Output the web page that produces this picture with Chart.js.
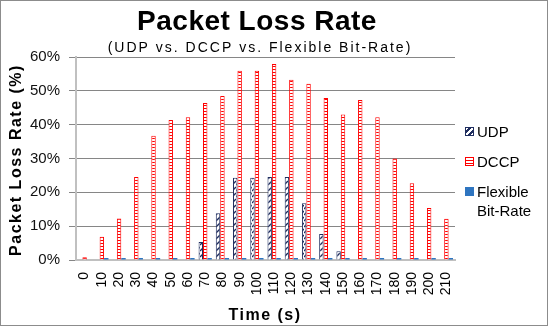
<!DOCTYPE html>
<html>
<head>
<meta charset="utf-8">
<script src="https://cdn.jsdelivr.net/npm/chart.js@4/dist/chart.umd.min.js"></script>
<style>
  body { margin: 0; background: #fff; }
  #wrap { position: relative; width: 548px; height: 326px; }
  #legend { position: absolute; left: 465px; top: 122px; font: 15px "Liberation Sans", Arial, sans-serif; color: #000; }
  .item { position: relative; padding-left: 12px; line-height: 19px; margin-bottom: 11px; }
  .sw { position: absolute; left: 0; top: 5px; width: 9px; height: 9px; box-sizing: border-box; }
  .udp { border: 1px solid #1f2d5e; background: repeating-linear-gradient(135deg, #fff 0 2px, #1f2d5e 2px 4px); }
  .dccp { border: 1px solid #ff0000; background: repeating-linear-gradient(to bottom, #fff 0 2px, #ff0000 2px 3px); }
  .flex { background: #2e75c0; }
</style>
</head>
<body>
<div id="wrap">
  <canvas id="myChart" width="548" height="326"></canvas>
  <div id="legend">
    <div class="item"><span class="sw udp"></span>UDP</div>
    <div class="item"><span class="sw dccp"></span>DCCP</div>
    <div class="item"><span class="sw flex"></span>Flexible<br>Bit-Rate</div>
  </div>
</div>
<script>
const times = ["0", "10", "20", "30", "40", "50", "60", "70", "80", "90", "100",
  "110", "120", "130", "140", "150", "160", "170", "180", "190", "200", "210"];
const udpLoss = [0, 0, 0, 0, 0, 0, 0, 5.3, 13.8, 24.3, 24.3,
  24.5, 24.5, 16.8, 7.7, 2.6, 0, 0, 0, 0, 0, 0];
const dccpLoss = [0.8, 6.9, 12.3, 24.5, 36.7, 41.4, 42.2, 46.4, 48.5, 55.9, 55.9,
  57.9, 53.3, 52.1, 47.9, 43.0, 47.3, 42.2, 30.0, 22.7, 15.4, 12.2];
const flexLoss = [0, 0.6, 0.6, 0.6, 0.6, 0.6, 0.6, 0.6, 0.6, 0.6, 0.6,
  0.6, 0.6, 0.6, 0.6, 0.6, 0.6, 0.6, 0.6, 0.6, 0.6, 0.6];
const yTicks = [0, 10, 20, 30, 40, 50, 60];

const navy = '#1f2d5e';
const red = '#ff0000';
const blue = '#2e75c0';

function makePattern(w, h, paint) {
  let c = document.createElement('canvas');
  c.width = w;
  c.height = h;
  let g = c.getContext('2d');
  g.fillStyle = '#fff';
  g.fillRect(0, 0, w, h);
  paint(g);
  return g.createPattern(c, 'repeat');
}

// diagonal dashes for UDP, ladder rungs for DCCP
const udpFill = makePattern(4, 6, (g) => {
  g.strokeStyle = navy;
  g.lineWidth = 1.3;
  g.beginPath();
  g.moveTo(0, 5);
  g.lineTo(4, 1);
  g.stroke();
});
const dccpFill = makePattern(4, 3, (g) => {
  g.fillStyle = red;
  g.fillRect(0, 0, 4, 1);
});

const FONT = '"Liberation Sans", Arial, sans-serif';

const textPlugin = {
  id: 'spacedText',
  afterDraw(chart) {
    let ctx = chart.ctx;
    let xs = chart.scales.x;

    // x tick labels, read upwards, end of text hanging under the axis
    ctx.save();
    ctx.fillStyle = '#000';
    ctx.font = '14px ' + FONT;
    ctx.textAlign = 'right';
    ctx.textBaseline = 'middle';
    times.forEach((t, i) => {
      ctx.save();
      ctx.translate(xs.getPixelForTick(i), xs.top + 12);
      ctx.rotate(-Math.PI / 2);
      ctx.fillText(t, 0, 0);
      ctx.restore();
    });
    ctx.restore();

    ctx.save();
    ctx.fillStyle = '#000';
    ctx.textAlign = 'center';
    ctx.textBaseline = 'alphabetic';

    ctx.font = 'bold 28px ' + FONT;
    ctx.letterSpacing = '0.5px';
    ctx.fillText('Packet Loss Rate', 257, 30);

    ctx.font = '14px ' + FONT;
    ctx.letterSpacing = '2px';
    ctx.fillText('(UDP vs. DCCP vs. Flexible Bit-Rate)', 260, 52);

    ctx.font = 'bold 16px ' + FONT;
    ctx.letterSpacing = '1.5px';
    ctx.fillText('Time (s)', 265, 320);

    ctx.translate(17, 160);
    ctx.rotate(-Math.PI / 2);
    ctx.textBaseline = 'middle';
    ctx.fillText('Packet Loss Rate (%)', 0, 0);
    ctx.restore();

    ctx.save();
    ctx.strokeStyle = '#8c8c8c';
    ctx.lineWidth = 1;
    ctx.strokeRect(0.5, 0.5, 547, 325);
    ctx.restore();
  }
};

const config = {
  type: 'bar',
  data: {
    labels: times,
    datasets: [
      { label: 'UDP', data: udpLoss, backgroundColor: udpFill, borderColor: navy, borderWidth: 1 },
      { label: 'DCCP', data: dccpLoss, backgroundColor: dccpFill, borderColor: red, borderWidth: 1 },
      { label: 'Flexible Bit-Rate', data: flexLoss, backgroundColor: blue, borderWidth: 0 }
    ]
  },
  options: {
    responsive: false,
    animation: false,
    layout: { padding: { left: 0, top: 57, right: 93, bottom: 0 } },
    datasets: { bar: { categoryPercentage: 0.77, barPercentage: 1.0 } },
    plugins: {
      legend: { display: false },
      title: { display: false },
      tooltip: { enabled: false }
    },
    scales: {
      x: {
        grid: { display: false },
        border: { color: '#c0c0c0', width: 2 },
        ticks: { display: false },
        afterFit: (s) => { s.height = 66; }
      },
      y: {
        min: 0,
        max: 60,
        afterBuildTicks: (s) => { s.ticks = yTicks.map(v => ({ value: v })); },
        grid: { color: '#868686', tickLength: 7, drawTicks: true },
        border: { color: '#c0c0c0', width: 2 },
        ticks: {
          color: '#111',
          font: { family: FONT, size: 15 },
          padding: 9,
          callback: (v) => v + '%'
        },
        afterFit: (s) => { s.width = 76; }
      }
    }
  },
  plugins: [textPlugin]
};

new Chart(document.getElementById('myChart'), config);
</script>
</body>
</html>
